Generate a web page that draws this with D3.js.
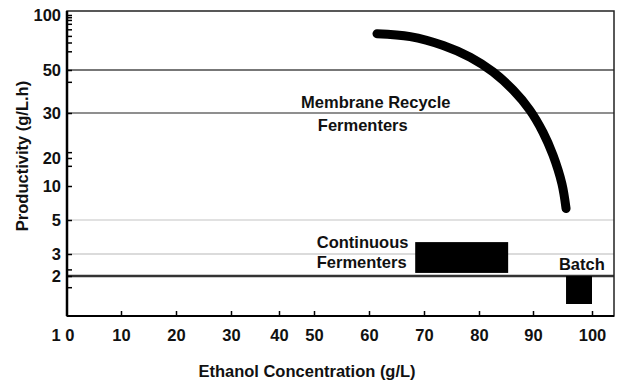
<!DOCTYPE html>
<html>
<head>
<meta charset="utf-8">
<script src="https://cdn.jsdelivr.net/npm/d3@7"></script>
<style>
  body { margin: 0; background: #fff; }
  text { font-family: "Liberation Sans", Arial, sans-serif; font-weight: bold; fill: #111; }
</style>
</head>
<body>
<div id="chart"></div>
<script>
// Axis values (the original figure uses uneven spacing, so each tick gets its own stop)
const X_TICKS = [0, 10, 20, 30, 40, 50, 60, 70, 80, 90, 100];
const Y_TICKS = [2, 3, 5, 10, 20, 30, 50, 100];
const Y_MINOR = [98, 95.5, 92, 87, 81, 75, 67, 44.5, 21.3, 17.2, 2.3, 1.72];
const Y_GRID = [50, 30, 5, 3, 2];

// Membrane recycle fermenters curve (ethanol g/L, productivity g/L.h)
const recycleX = [61.45, 67.5, 73.5, 78.4, 82.6, 86.3, 89.4, 91.7, 93.4, 94.9, 95.6];
const recycleY = [83.0, 80.4, 72.3, 61.6, 49.1, 40.7, 31.4, 25.7, 20.6, 10.8, 6.7];

// Rectangular regions [x0, x1, y0, y1]
const continuous = [68.4, 85.4, 2.14, 3.7];
const batch = [95.6, 100, 1.3, 2];

// Annotation anchors in data units
const labels = [
  { text: 'Membrane Recycle', x: 46.3, y: 32.3 },
  { text: 'Fermenters', x: 50.7, y: 26 },
  { text: 'Continuous', x: 50.5, y: 3.35 },
  { text: 'Fermenters', x: 50.5, y: 2.36 },
  { text: 'Batch', x: 94.4, y: 2.27 }
];

const W = 624, H = 385;
const PLOT = { left: 67, right: 614, top: 11, bottom: 316 };
const FONT = '16.5px';

// piecewise scales that reproduce the hand-drawn axis spacing
const xScale = d3.scaleLinear()
  .domain(X_TICKS)
  .range([68, 121, 176, 231, 279, 314, 369, 424, 479, 533, 592]);
const yScale = d3.scaleLinear()
  .domain([1, 2, 3, 5, 10, 20, 30, 50, 100])
  .range([316, 276, 254, 220, 186, 158, 113, 70, 15]);

const svg = d3.select('#chart').append('svg')
  .attr('width', W)
  .attr('height', H);

// Grid lines
const gridStyle = {
  50: { color: '#4a4a4a', width: 1.5 },
  30: { color: '#6a6a6a', width: 1.5 },
  5:  { color: '#c4c4c4', width: 1.2 },
  3:  { color: '#b8b8b8', width: 1.2 },
  2:  { color: '#333', width: 2.5 }
};
svg.selectAll('.grid')
    .data(Y_GRID)
  .enter().append('line')
    .attr('class', 'grid')
    .attr('x1', PLOT.left)
    .attr('x2', PLOT.right)
    .attr('y1', d => yScale(d))
    .attr('y2', d => yScale(d))
    .style('stroke', d => gridStyle[d].color)
    .style('stroke-width', d => gridStyle[d].width);

// Continuous + batch blocks
svg.selectAll('.block')
    .data([continuous, batch])
  .enter().append('rect')
    .attr('class', 'block')
    .attr('x', d => xScale(d[0]))
    .attr('y', d => yScale(d[3]))
    .attr('width', d => xScale(d[1]) - xScale(d[0]))
    .attr('height', d => yScale(d[2]) - yScale(d[3]))
    .style('fill', '#000');

// Membrane recycle curve
const pts = recycleX.map((x, i) => [x, recycleY[i]]);
svg.append('path')
  .datum(pts)
  .attr('d', d3.line()
    .x(d => xScale(d[0]))
    .y(d => yScale(d[1]))
    .curve(d3.curveCatmullRom))
  .style('fill', 'none')
  .style('stroke', '#000')
  .style('stroke-width', 9)
  .style('stroke-linecap', 'round');

// Labels
svg.selectAll('.note')
    .data(labels)
  .enter().append('text')
    .attr('class', 'note')
    .attr('x', d => xScale(d.x))
    .attr('y', d => yScale(d.y))
    .style('font-size', FONT)
    .text(d => d.text);

// Frame
svg.append('rect')
  .attr('x', PLOT.left)
  .attr('y', PLOT.top)
  .attr('width', PLOT.right - PLOT.left)
  .attr('height', PLOT.bottom - PLOT.top)
  .style('fill', 'none')
  .style('stroke', '#222')
  .style('stroke-width', 1.5);
svg.append('line')
  .attr('x1', PLOT.left).attr('x2', PLOT.left)
  .attr('y1', PLOT.top).attr('y2', PLOT.bottom)
  .style('stroke', '#000')
  .style('stroke-width', 2.5);
svg.append('line')
  .attr('x1', PLOT.left).attr('x2', PLOT.right)
  .attr('y1', PLOT.bottom).attr('y2', PLOT.bottom)
  .style('stroke', '#000')
  .style('stroke-width', 2);

// Y axis: labelled ticks
const yAxis = svg.append('g')
  .attr('transform', `translate(${PLOT.left},0)`)
  .call(d3.axisLeft(yScale)
    .tickValues(Y_TICKS)
    .tickSizeInner(-5)
    .tickSizeOuter(0)
    .tickPadding(6));
yAxis.select('.domain').remove();
yAxis.selectAll('text').style('font-size', FONT).style('font-family', null);
yAxis.selectAll('line').style('stroke', '#000').style('stroke-width', 1.5);

// Y axis: minor ticks
svg.append('g')
  .attr('transform', `translate(${PLOT.left},0)`)
  .call(d3.axisLeft(yScale)
    .tickValues(Y_MINOR)
    .tickSizeInner(-5)
    .tickSizeOuter(0)
    .tickFormat(''))
  .call(g => g.select('.domain').remove())
  .selectAll('line').style('stroke', '#000').style('stroke-width', 1.5);

// X axis
const xAxis = svg.append('g')
  .attr('transform', `translate(0,${PLOT.bottom})`)
  .call(d3.axisBottom(xScale)
    .tickValues(X_TICKS)
    .tickSizeInner(-5)
    .tickSizeOuter(0)
    .tickPadding(13)
    .tickFormat(d => d === 0 ? '1 0' : d));
xAxis.select('.domain').remove();
xAxis.selectAll('text').style('font-size', FONT).style('font-family', null);
xAxis.selectAll('line').style('stroke', '#000').style('stroke-width', 1.5);
xAxis.selectAll('.tick').filter(d => d === 0)
  .select('text')
  .attr('text-anchor', 'end')
  .attr('x', 6);
xAxis.selectAll('.tick').filter(d => d === 0).select('line').remove();

// Axis titles
svg.append('text')
  .attr('x', 307)
  .attr('y', 377)
  .attr('text-anchor', 'middle')
  .style('font-size', FONT)
  .text('Ethanol Concentration (g/L)');

svg.append('text')
  .attr('transform', 'translate(28,156) rotate(-90)')
  .attr('text-anchor', 'middle')
  .style('font-size', FONT)
  .text('Productivity (g/L.h)');
</script>
</body>
</html>
